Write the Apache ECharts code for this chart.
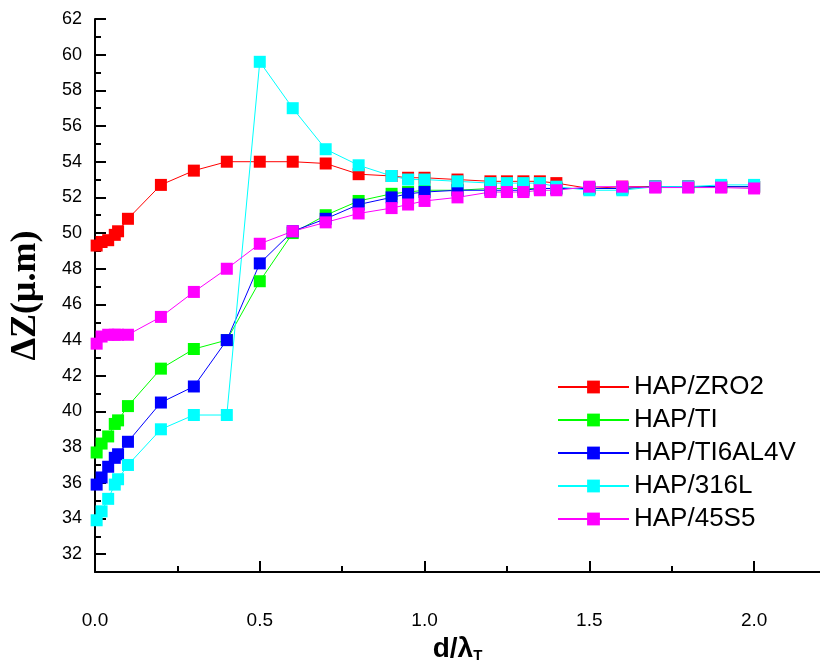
<!DOCTYPE html>
<html>
<head>
<meta charset="utf-8">
<script src="https://cdn.jsdelivr.net/npm/echarts@6/dist/echarts.min.js"></script>
<style>
html,body{margin:0;padding:0;background:#fff;}
#chart{width:820px;height:661px;}
</style>
</head>
<body>
<div id="chart"></div>
<script>
const dValues = [0.005,0.02,0.04,0.06,0.07,0.1,0.2,0.3,0.4,0.5,0.6,0.7,0.8,0.9,0.95,1.0,1.1,1.2,1.25,1.3,1.35,1.4,1.5,1.6,1.7,1.8,1.9,2.0];
const seriesNames = ['HAP/ZRO2','HAP/TI','HAP/TI6AL4V','HAP/316L','HAP/45S5'];
const zro2 = [49.3,49.5,49.6,49.9,50.1,50.8,52.7,53.5,54.0,54.0,54.0,53.9,53.3,53.2,53.1,53.1,53.0,52.9,52.9,52.9,52.9,52.8,52.5,52.6,52.6,52.6,52.6,52.6];
const ti = [37.7,38.2,38.6,39.3,39.5,40.3,42.4,43.5,44.0,47.3,50.0,51.0,51.8,52.2,52.3,52.4,52.4,52.5,52.5,52.5,52.5,52.5,52.5,52.5,52.6,52.6,52.6,52.6];
const ti6al4v = [35.9,36.3,36.9,37.4,37.6,38.3,40.5,41.4,44.0,48.3,50.1,50.8,51.6,52.0,52.2,52.3,52.4,52.4,52.4,52.4,52.5,52.5,52.5,52.5,52.6,52.6,52.6,52.6];
const s316l = [33.9,34.4,35.1,35.9,36.2,37.0,39.0,39.8,39.8,59.6,57.0,54.7,53.8,53.2,53.0,53.0,52.9,52.8,52.8,52.8,52.8,52.6,52.4,52.4,52.6,52.6,52.7,52.7];
const s45s5 = [43.8,44.2,44.3,44.3,44.3,44.3,45.3,46.7,48.0,49.4,50.1,50.6,51.1,51.4,51.6,51.8,52.0,52.3,52.3,52.3,52.4,52.4,52.6,52.6,52.55,52.55,52.55,52.5];
const yMajorTicks = [32,34,36,38,40,42,44,46,48,50,52,54,56,58,60,62];
const yMinorTicks = [31,33,35,37,39,41,43,45,47,49,51,53,55,57,59,61];
const xMajorTicks = [0,0.5,1.0,1.5,2.0];
const xMinorTicks = [0.25,0.75,1.25,1.75];

const colors = ['#ff0000','#00ff00','#0000ff','#00ffff','#ff00ff'];
const allValues = [zro2, ti, ti6al4v, s316l, s45s5];

const chart = echarts.init(document.getElementById('chart'), null, {renderer:'canvas'});
const labelFont = 'Liberation Sans, Arial, sans-serif';

const series = seriesNames.map((name, i) => ({
  name: name,
  type: 'line',
  xAxisIndex: 0,
  yAxisIndex: 0,
  data: dValues.map((d, k) => [d, allValues[i][k]]),
  symbol: 'rect',
  symbolSize: 12,
  showAllSymbol: true,
  lineStyle: {color: colors[i], width: 1},
  itemStyle: {color: colors[i]},
  emphasis: {disabled: true},
  animation: false
}));

const option = {
  backgroundColor: '#fff',
  animation: false,
  grid: {left: 95, top: 19, right: 0, bottom: 89, containLabel: false, outerBoundsMode: 'none'},
  legend: {
    orient: 'vertical',
    left: 557,
    top: 374,
    padding: 0,
    itemWidth: 71,
    itemHeight: 16,
    itemGap: 7,
    data: seriesNames,
    textStyle: {fontFamily: labelFont, fontSize: 26, color: '#000'}
  },
  xAxis: [{
    type: 'value',
    min: 0, max: 2.2, interval: 0.25,
    position: 'bottom',
    axisLine: {show: true, onZero: false, lineStyle: {color: '#000', width: 2}},
    axisTick: {show: true, inside: true, length: 11, lineStyle: {color: '#000', width: 2}, customValues: xMajorTicks},
    axisLabel: {show: true, margin: 39, fontFamily: labelFont, fontSize: 19, color: '#000', customValues: xMajorTicks, formatter: v => v.toFixed(1)},
    splitLine: {show: false},
    name: '{a|d/λ}{b|T}',
    nameLocation: 'middle',
    nameGap: 57,
    nameTextStyle: {
      rich: {
        a: {fontFamily: labelFont, fontSize: 28, fontWeight: 'bold', color: '#000'},
        b: {fontFamily: labelFont, fontSize: 15, fontWeight: 'bold', color: '#000', verticalAlign: 'bottom', padding: [14,0,0,0]}
      }
    }
  },{
    type: 'value',
    min: 0, max: 2.2, interval: 0.25,
    position: 'bottom',
    axisLine: {show: false, onZero: false},
    axisTick: {show: true, inside: true, length: 6, lineStyle: {color: '#000', width: 2}, customValues: xMinorTicks},
    axisLabel: {show: false},
    splitLine: {show: false}
  }],
  yAxis: [{
    type: 'value',
    min: 31, max: 62, interval: 1,
    position: 'left',
    axisLine: {show: true, onZero: false, lineStyle: {color: '#000', width: 2}},
    axisTick: {show: true, inside: true, length: 11, lineStyle: {color: '#000', width: 2}, customValues: yMajorTicks},
    axisLabel: {show: true, margin: 13, fontFamily: labelFont, fontSize: 18, color: '#000', customValues: yMajorTicks},
    splitLine: {show: false},
    name: 'ΔZ(μ.m)',
    nameLocation: 'middle',
    nameGap: 51,
    nameTextStyle: {fontFamily: 'Liberation Serif, Times New Roman, serif', fontSize: 36, fontWeight: 'bold', color: '#000'}
  },{
    type: 'value',
    min: 31, max: 62, interval: 1,
    position: 'left',
    axisLine: {show: false, onZero: false},
    axisTick: {show: true, inside: true, length: 6, lineStyle: {color: '#000', width: 2}, customValues: yMinorTicks},
    axisLabel: {show: false},
    splitLine: {show: false}
  }],
  series: series
};
chart.setOption(option);
</script>
</body>
</html>
